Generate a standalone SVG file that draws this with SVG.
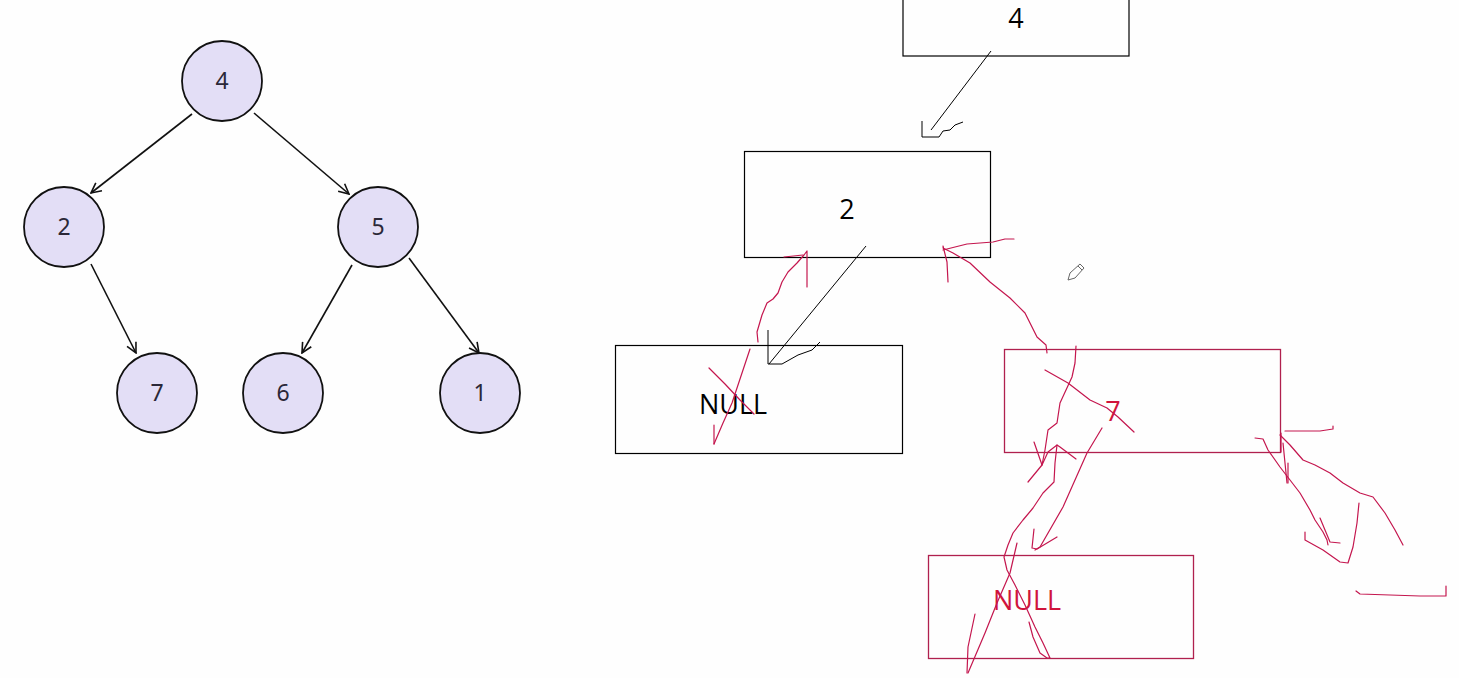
<svg xmlns="http://www.w3.org/2000/svg" width="1459" height="678" viewBox="0 0 1459 678">
<defs>
<marker id="ah" viewBox="0 0 12 12" refX="11" refY="6" markerWidth="12" markerHeight="12" markerUnits="userSpaceOnUse" orient="auto">
<path d="M1,1 L11,6 L1,11" fill="none" stroke="#111" stroke-width="1.6"/>
</marker>
<style>
.c{fill:#e3def6;stroke:#111;stroke-width:1.8}
.ct{font-family:"Noto Sans","DejaVu Sans",sans-serif;font-size:23px;fill:#2b2838;text-anchor:middle}
.e{stroke:#111;stroke-width:1.6;fill:none}
.bx{fill:none;stroke:#000;stroke-width:1.2}
.rbx{fill:none;stroke:#b0204e;stroke-width:1.3}
.bt{font-family:"Open Sans","Noto Sans",sans-serif;font-size:27px;fill:#000;text-anchor:middle}
.rt{font-family:"Open Sans","Noto Sans",sans-serif;font-size:27px;fill:#d0143c;text-anchor:middle}
.k{fill:none;stroke:#000;stroke-width:1}
.r{fill:none;stroke:#c4164e;stroke-width:1.2;stroke-linecap:round;stroke-linejoin:round}
</style>
</defs>
<rect width="1459" height="678" fill="#fefefe"/>

<g id="tree-edges">
<line class="e" x1="192" y1="114" x2="91" y2="193" marker-end="url(#ah)"/>
<line class="e" x1="254" y1="113" x2="349" y2="194" marker-end="url(#ah)"/>
<line class="e" x1="91" y1="264" x2="136" y2="353" marker-end="url(#ah)"/>
<line class="e" x1="352" y1="265" x2="302" y2="353" marker-end="url(#ah)"/>
<line class="e" x1="409" y1="258" x2="479" y2="353" marker-end="url(#ah)"/>
</g>
<g id="t4"><circle class="c" cx="222" cy="81" r="40"/><text class="ct" x="222" y="89">4</text></g>
<g id="t2"><circle class="c" cx="64" cy="227" r="40"/><text class="ct" x="64" y="235">2</text></g>
<g id="t5"><circle class="c" cx="378" cy="227" r="40"/><text class="ct" x="378" y="235">5</text></g>
<g id="t7"><circle class="c" cx="157" cy="393" r="40"/><text class="ct" x="157" y="401">7</text></g>
<g id="t6"><circle class="c" cx="283" cy="393" r="40"/><text class="ct" x="283" y="401">6</text></g>
<g id="t1"><circle class="c" cx="480" cy="393" r="40"/><text class="ct" x="480" y="401">1</text></g>

<g id="b4"><rect class="bx" x="903" y="-5" width="226" height="61"/><text class="bt" x="1016" y="28">4</text></g>
<g id="b2"><rect class="bx" x="744.5" y="151.5" width="246" height="106"/><text class="bt" x="847" y="219">2</text></g>
<g id="bnull1"><rect class="bx" x="615.5" y="345.5" width="287" height="108"/><text class="bt" x="733" y="414">NULL</text></g>
<g id="b7"><rect class="rbx" x="1004.5" y="349.5" width="276" height="103"/><text class="rt" x="1113" y="421">7</text></g>
<g id="bnull2"><rect class="rbx" x="928.5" y="555.5" width="265" height="103"/><text class="rt" x="1027" y="610">NULL</text></g>

<g id="connectors">
<path class="k" d="M991,51 L931,130"/>
<path class="k" d="M922,121 L922,137 L939,137 L943,131 L950,130 L955,125 L963,122"/>
<path class="k" d="M866,246 L769,364"/>
<path class="k" d="M768,330 L768,364 L782,364 L798,355 L812,350 L820,342"/>
</g>

<g id="strokes">
<path class="r" d="M758,342 L757,332 L762,315 L767,303 L773,299 L778,293 L782,282 L788,272 L797,263 L804,255 L807,251 L807,287"/>
<path class="r" d="M784,257 L803,255"/>
<path class="r" d="M750,349 L743,370 L737,388 L732,403 L723,423 L714,444"/>
<path class="r" d="M714,425 L714,444"/>
<path class="r" d="M709,368 L725,384 L740,400 L754,414"/>
<path class="r" d="M1047,353 L1046,345 L1037,337 L1025,313 L1010,298 L990,282 L970,263 L953,253 L943,248"/>
<path class="r" d="M943,246 L947,262 L948,282"/>
<path class="r" d="M943,250 L967,244 L993,242 L1005,239 L1014,239"/>
<path class="r" d="M1076,346 L1075,363 L1072,377 L1060,403 L1057,423 L1048,430 L1045,450 L1042,465"/>
<path class="r" d="M1034,442 L1042,465"/>
<path class="r" d="M1028,482 L1042,465 L1048,452 L1057,445 L1060,447 L1076,459"/>
<path class="r" d="M1057,445 L1055,463 L1054,482 L1043,493 L1033,508 L1023,520 L1013,533 L1008,545 L1004,557 L1007,570 L1015,585 L1025,605 L1035,627 L1043,643 L1050,658 L1047,658 L1040,653 L1033,637 L1029,622"/>
<path class="r" d="M1102,428 L1087,453 L1063,507 L1040,547 L1035,550"/>
<path class="r" d="M1034,529 L1032,548 L1037,549 L1057,537"/>
<path class="r" d="M1017,543 L1010,573 L997,603 L985,633 L968,673"/>
<path class="r" d="M975,614 L968,647 L967,673"/>
<path class="r" d="M1045,370 L1068,383 L1090,400 L1107,408 L1118,417 L1134,432"/>
<path class="r" d="M1285,431 L1320,431 L1333,429 L1333,426"/>
<path class="r" d="M1281,433 L1281,452" stroke-width="2"/>
<path class="r" d="M1283,443 L1287,483"/>
<path class="r" d="M1288,463 L1288,483"/>
<path class="r" d="M1255,438 L1263,439 L1268,450 L1280,467 L1290,480 L1300,493 L1310,510 L1315,520 L1323,532 L1327,540 L1328,545"/>
<path class="r" d="M1320,518 L1330,542 L1340,543"/>
<path class="r" d="M1280,435 L1290,445 L1303,460 L1315,465 L1330,473 L1343,483 L1360,493 L1373,497 L1385,513 L1395,530 L1403,545"/>
<path class="r" d="M1305,532 L1305,540 L1323,550 L1340,562 L1348,563 L1353,547 L1357,523 L1359,503"/>
<path class="r" d="M1356,591 L1360,594 L1420,596 L1446,596 L1446,586"/>
</g>

<g id="cursor">
<path d="M1068,280 L1070,273 L1080,264 L1084,268 L1075,278 Z" fill="#fff" stroke="#666" stroke-width="1"/>
<path d="M1078,266 L1082,270" stroke="#666" stroke-width="1"/>
</g>
</svg>
